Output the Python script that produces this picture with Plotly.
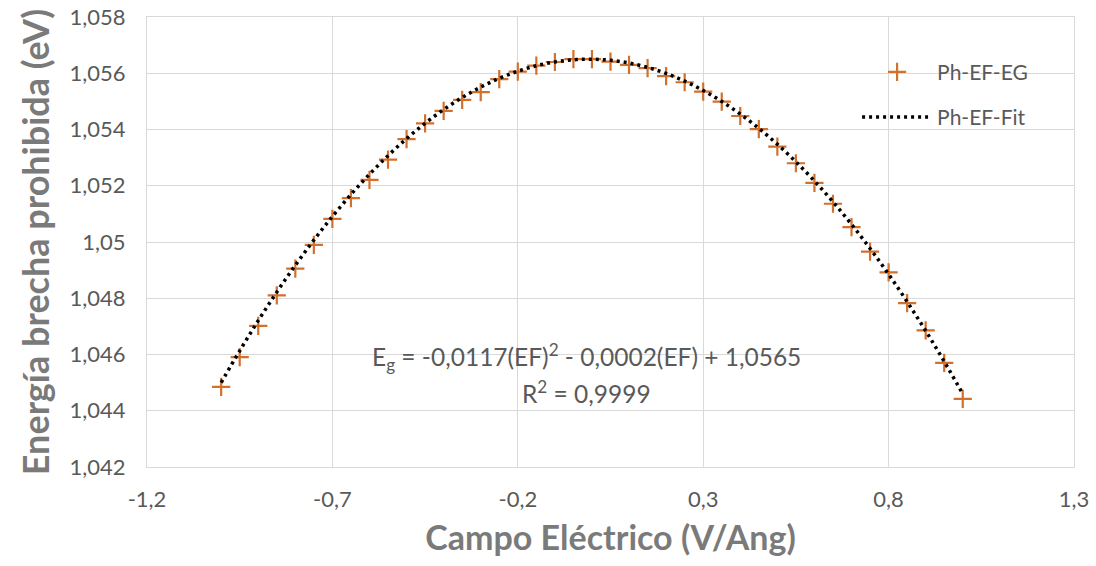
import plotly.graph_objects as go

# ---- data ----
campo = [-1.00, -0.95, -0.90, -0.85, -0.80, -0.75, -0.70, -0.65, -0.60, -0.55,
         -0.50, -0.45, -0.40, -0.35, -0.30, -0.25, -0.20, -0.15, -0.10, -0.05,
         0.00, 0.05, 0.10, 0.15, 0.20, 0.25, 0.30, 0.35, 0.40, 0.45,
         0.50, 0.55, 0.60, 0.65, 0.70, 0.75, 0.80, 0.85, 0.90, 0.95, 1.00]
energia = [1.04485, 1.04591, 1.04702, 1.04810, 1.04905, 1.04990, 1.05082, 1.05156, 1.05221, 1.05293,
           1.05366, 1.05422, 1.05466, 1.05505, 1.05533, 1.05579, 1.05606, 1.05627, 1.05640, 1.05650,
           1.05650, 1.05641, 1.05630, 1.05618, 1.05590, 1.05568, 1.05535, 1.05499, 1.05448, 1.05401,
           1.05339, 1.05280, 1.05210, 1.05136, 1.05053, 1.04966, 1.04892, 1.04783, 1.04686, 1.04570, 1.04442]
fit_coefs = [-0.0117, -0.0002, 1.0565]  # a*EF^2 + b*EF + c (trendline label)

x_tickvals = [-1.2, -0.7, -0.2, 0.3, 0.8, 1.3]
x_ticktext = ["-1,2", "-0,7", "-0,2", "0,3", "0,8", "1,3"]
y_tickvals = [1.042, 1.044, 1.046, 1.048, 1.050, 1.052, 1.054, 1.056, 1.058]
y_ticktext = ["1,042", "1,044", "1,046", "1,048", "1,05", "1,052", "1,054", "1,056", "1,058"]

fit_vals = [fit_coefs[0] * x * x + fit_coefs[1] * x + fit_coefs[2] for x in campo]

FONT = "Lato"
GRAY = "#595959"
TITLE_GRAY = "#7a7a7a"
ORANGE = "#D2702E"

fig = go.Figure()
fig.add_trace(go.Scatter(
    x=campo, y=energia, mode="markers", name="Ph-EF-EG",
    legendgroup="a",
    marker=dict(symbol="cross-thin", size=13, color=ORANGE,
                line=dict(color=ORANGE, width=2.2)),
))
fig.add_trace(go.Scatter(
    x=campo, y=fit_vals, mode="lines", name="Ph-EF-Fit",
    legendgroup="b",
    line=dict(color="black", width=3.5, dash="3px,4px", shape="spline"),
))

fig.update_layout(
    width=1096, height=566,
    margin=dict(l=147, r=22, t=17, b=99, autoexpand=False),
    paper_bgcolor="white", plot_bgcolor="white",
    font=dict(family=FONT, color=GRAY),
    showlegend=True,
    legend=dict(x=0.766, y=0.923, xanchor="left", yanchor="top",
                font=dict(size=21, color=GRAY, family=FONT),
                itemwidth=70, traceorder="grouped", tracegroupgap=15,
                bgcolor="rgba(0,0,0,0)"),
    xaxis=dict(range=[-1.2, 1.3], tickvals=x_tickvals, ticktext=x_ticktext,
               automargin=False,
               showgrid=True, gridcolor="#d9d9d9", gridwidth=1,
               zeroline=False, showline=True, linecolor="#d9d9d9", mirror=True,
               tickfont=dict(size=22, color=GRAY, family=FONT),
               ticks="", ticklabelstandoff=13,
               title=dict(text="Campo Eléctrico (V/Ang)", standoff=14,
                          font=dict(size=34, color=TITLE_GRAY, family=FONT, weight="bold"))),
    yaxis=dict(range=[1.042, 1.058], tickvals=y_tickvals, ticktext=y_ticktext,
               automargin=False,
               showgrid=True, gridcolor="#d9d9d9", gridwidth=1,
               zeroline=False, showline=True, linecolor="#d9d9d9", mirror=True,
               tickfont=dict(size=22, color=GRAY, family=FONT),
               ticks="", ticklabelstandoff=16,
               title=dict(text="Energía brecha prohibida (eV)", standoff=8,
                          font=dict(size=36, color=TITLE_GRAY, family=FONT, weight="bold"))),
)

fig.add_annotation(xref="paper", yref="paper", x=0.4736, y=0.2444,
                   xanchor="center", yanchor="middle", showarrow=False,
                   text="E<sub>g</sub> = -0,0117(EF)<sup>2</sup> - 0,0002(EF) + 1,0565",
                   font=dict(size=24.5, color=GRAY, family=FONT))
fig.add_annotation(xref="paper", yref="paper", x=0.4736, y=0.1667,
                   xanchor="center", yanchor="middle", showarrow=False,
                   text="R<sup>2</sup> = 0,9999",
                   font=dict(size=24.5, color=GRAY, family=FONT))

fig.write_html("out.html")
